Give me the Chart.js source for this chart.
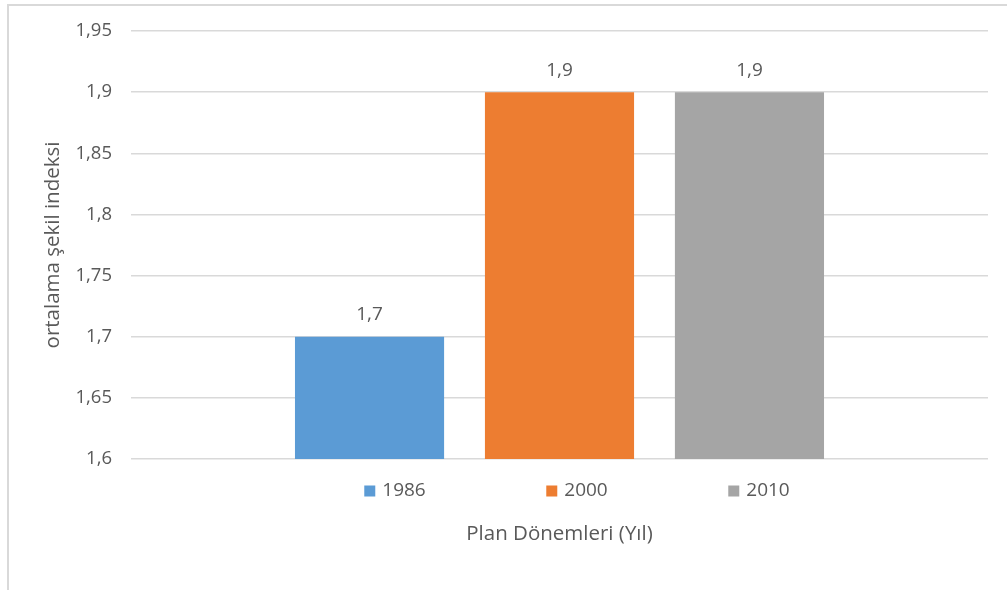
<!DOCTYPE html>
<html>
<head>
<meta charset="utf-8">
<script src="https://cdn.jsdelivr.net/npm/chart.js@4.4.1/dist/chart.umd.min.js"></script>
<style>
  html, body { margin: 0; padding: 0; background: #ffffff; }
  #wrap { position: relative; width: 1007px; height: 590px; }
  canvas { display: block; }
</style>
</head>
<body>
<div id="wrap"><canvas id="c" width="1007" height="590"></canvas></div>
<script>
// ---- data ----
const categories = [""];
const seriesNames = ["1986", "2000", "2010"];
const seriesValues = [[1.7], [1.9], [1.9]];
const seriesColors = ["#5B9BD5", "#ED7D31", "#A5A5A5"];
const yTicks = [1.6, 1.65, 1.7, 1.75, 1.8, 1.85, 1.9, 1.95];
const yTitle = "ortalama şekil indeksi";
const xTitle = "Plan Dönemleri (Yıl)";

const FONT = "'Open Sans', 'Noto Sans', sans-serif";
const TXT = "#595959";
const fmt = v => String(Math.round(v * 100) / 100).replace(".", ",");

const datasets = seriesNames.map((n, i) => ({
  label: n,
  data: seriesValues[i],
  backgroundColor: seriesColors[i],
  borderWidth: 0,
  categoryPercentage: 0.665,
  barPercentage: 0.785
}));

const framePlugin = {
  id: "frame",
  beforeDraw(chart) {
    const ctx = chart.ctx;
    ctx.save();
    ctx.strokeStyle = "#d9d9d9";
    ctx.lineWidth = 2;
    ctx.beginPath();
    ctx.moveTo(8, 590);
    ctx.lineTo(8, 5);
    ctx.lineTo(1007, 5);
    ctx.stroke();
    ctx.restore();
  }
};

const labelPlugin = {
  id: "valueLabels",
  afterDatasetsDraw(chart) {
    const ctx = chart.ctx;
    ctx.save();
    ctx.font = "19px " + FONT;
    ctx.fillStyle = TXT;
    ctx.textAlign = "center";
    ctx.textBaseline = "middle";
    chart.data.datasets.forEach((ds, i) => {
      const meta = chart.getDatasetMeta(i);
      meta.data.forEach((el, j) => {
        ctx.fillText(fmt(ds.data[j]), el.x, el.y - 22);
      });
    });
    ctx.restore();
  }
};

const legendPlugin = {
  id: "customLegend",
  afterDraw(chart) {
    const ctx = chart.ctx;
    const area = chart.chartArea;
    ctx.save();
    ctx.font = "19px " + FONT;
    ctx.textBaseline = "middle";
    ctx.textAlign = "left";
    const y = 491;
    const spacing = 182;
    const cx = (area.left + area.right) / 2 + 17.5;
    chart.data.datasets.forEach((ds, i) => {
      const center = cx + (i - 1) * spacing;
      const tw = ctx.measureText(ds.label).width;
      const box = 11, gap = 7;
      const total = box + gap + tw;
      const x0 = center - total / 2;
      ctx.fillStyle = ds.backgroundColor;
      ctx.fillRect(x0, y - box / 2, box, box);
      ctx.fillStyle = TXT;
      ctx.fillText(ds.label, x0 + box + gap, y);
    });
    ctx.restore();
  }
};

new Chart(document.getElementById("c"), {
  type: "bar",
  data: { labels: categories, datasets },
  plugins: [framePlugin, labelPlugin, legendPlugin],
  options: {
    responsive: false,
    animation: false,
    layout: { padding: { top: 31, right: 19, left: 0, bottom: 0 } },
    plugins: {
      legend: { display: false },
      tooltip: { enabled: false },
      title: { display: false }
    },
    scales: {
      x: {
        display: true,
        grid: { display: false, drawTicks: false },
        border: { display: false },
        ticks: { display: false },
        title: {
          display: true,
          text: xTitle,
          color: TXT,
          font: { family: FONT, size: 20.5, weight: "normal" },
          padding: { top: 62.7, bottom: 43.7 }
        }
      },
      y: {
        min: 1.6,
        max: 1.95,
        afterBuildTicks: s => { s.ticks = yTicks.map(v => ({ value: v })); },
        afterFit: s => { s.width = 131; },
        ticks: {
          color: TXT,
          font: { family: FONT, size: 18.5 },
          padding: 19,
          callback: v => fmt(v)
        },
        grid: { color: "#d9d9d9", lineWidth: 1.5, drawTicks: false },
        border: { display: false },
        title: {
          display: true,
          text: yTitle,
          color: TXT,
          font: { family: FONT, size: 20.5 },
          padding: { top: 40.7, bottom: 0 }
        }
      }
    }
  }
});
</script>
</body>
</html>
